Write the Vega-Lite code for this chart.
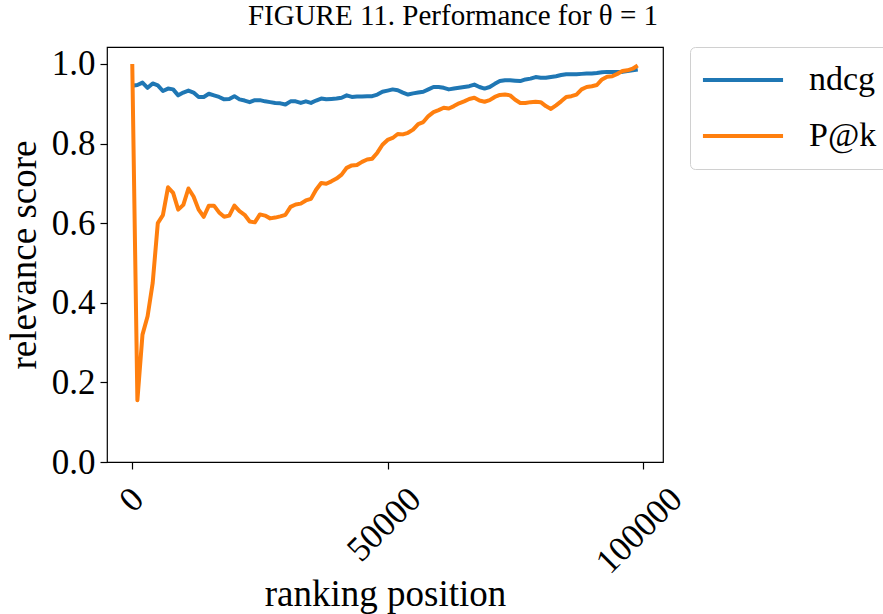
{
  "$schema": "https://vega.github.io/schema/vega-lite/v6.json",
  "width": 556,
  "height": 415,
  "autosize": {"type": "none"},
  "padding": {"left": 107, "top": 47, "right": 220, "bottom": 152},
  "background": "white",
  "title": {"text": "FIGURE 11.  Performance for θ = 1", "font": "Liberation Serif", "fontSize": 29, "fontWeight": "normal", "color": "black", "anchor": "middle", "frame": "group", "dx": 68, "baseline": "alphabetic", "offset": -7},
  "config": {
    "view": {"stroke": "black", "strokeWidth": 1.2},
    "axis": {"domain": false, "grid": false, "labelFont": "Liberation Serif", "labelFontSize": 35, "labelColor": "black", "tickColor": "black", "tickSize": 7, "tickWidth": 1.2, "titleFont": "Liberation Serif", "titleFontSize": 37, "titleFontWeight": "normal", "titleColor": "black"}
  },
  "data": {"values": [
    {"x":0,"series":"ndcg","value":0.945},{"x":1000,"series":"ndcg","value":0.947},{"x":2000,"series":"ndcg","value":0.953},{"x":3000,"series":"ndcg","value":0.940},{"x":4000,"series":"ndcg","value":0.951},
    {"x":5000,"series":"ndcg","value":0.946},{"x":6000,"series":"ndcg","value":0.932},{"x":7000,"series":"ndcg","value":0.938},{"x":8000,"series":"ndcg","value":0.936},{"x":9000,"series":"ndcg","value":0.921},
    {"x":10000,"series":"ndcg","value":0.928},{"x":11000,"series":"ndcg","value":0.933},{"x":12000,"series":"ndcg","value":0.928},{"x":13000,"series":"ndcg","value":0.917},{"x":14000,"series":"ndcg","value":0.917},
    {"x":15000,"series":"ndcg","value":0.925},{"x":16000,"series":"ndcg","value":0.921},{"x":17000,"series":"ndcg","value":0.917},{"x":18000,"series":"ndcg","value":0.911},{"x":19000,"series":"ndcg","value":0.912},
    {"x":20000,"series":"ndcg","value":0.919},{"x":21000,"series":"ndcg","value":0.911},{"x":22000,"series":"ndcg","value":0.908},{"x":23000,"series":"ndcg","value":0.904},{"x":24000,"series":"ndcg","value":0.909},
    {"x":25000,"series":"ndcg","value":0.909},{"x":26000,"series":"ndcg","value":0.906},{"x":27000,"series":"ndcg","value":0.904},{"x":28000,"series":"ndcg","value":0.902},{"x":29000,"series":"ndcg","value":0.901},
    {"x":30000,"series":"ndcg","value":0.898},{"x":31000,"series":"ndcg","value":0.906},{"x":32000,"series":"ndcg","value":0.906},{"x":33000,"series":"ndcg","value":0.902},{"x":34000,"series":"ndcg","value":0.906},
    {"x":35000,"series":"ndcg","value":0.902},{"x":36000,"series":"ndcg","value":0.908},{"x":37000,"series":"ndcg","value":0.913},{"x":38000,"series":"ndcg","value":0.911},{"x":39000,"series":"ndcg","value":0.912},
    {"x":40000,"series":"ndcg","value":0.913},{"x":41000,"series":"ndcg","value":0.915},{"x":42000,"series":"ndcg","value":0.921},{"x":43000,"series":"ndcg","value":0.917},{"x":44000,"series":"ndcg","value":0.918},
    {"x":45000,"series":"ndcg","value":0.918},{"x":46000,"series":"ndcg","value":0.919},{"x":47000,"series":"ndcg","value":0.919},{"x":48000,"series":"ndcg","value":0.923},{"x":49000,"series":"ndcg","value":0.930},
    {"x":50000,"series":"ndcg","value":0.933},{"x":51000,"series":"ndcg","value":0.936},{"x":52000,"series":"ndcg","value":0.934},{"x":53000,"series":"ndcg","value":0.928},{"x":54000,"series":"ndcg","value":0.923},
    {"x":55000,"series":"ndcg","value":0.926},{"x":56000,"series":"ndcg","value":0.928},{"x":57000,"series":"ndcg","value":0.930},{"x":58000,"series":"ndcg","value":0.936},{"x":59000,"series":"ndcg","value":0.942},
    {"x":60000,"series":"ndcg","value":0.942},{"x":61000,"series":"ndcg","value":0.940},{"x":62000,"series":"ndcg","value":0.936},{"x":63000,"series":"ndcg","value":0.938},{"x":64000,"series":"ndcg","value":0.940},
    {"x":65000,"series":"ndcg","value":0.942},{"x":66000,"series":"ndcg","value":0.944},{"x":67000,"series":"ndcg","value":0.948},{"x":68000,"series":"ndcg","value":0.942},{"x":69000,"series":"ndcg","value":0.938},
    {"x":70000,"series":"ndcg","value":0.942},{"x":71000,"series":"ndcg","value":0.950},{"x":72000,"series":"ndcg","value":0.957},{"x":73000,"series":"ndcg","value":0.959},{"x":74000,"series":"ndcg","value":0.959},
    {"x":75000,"series":"ndcg","value":0.958},{"x":76000,"series":"ndcg","value":0.957},{"x":77000,"series":"ndcg","value":0.961},{"x":78000,"series":"ndcg","value":0.963},{"x":79000,"series":"ndcg","value":0.967},
    {"x":80000,"series":"ndcg","value":0.965},{"x":81000,"series":"ndcg","value":0.965},{"x":82000,"series":"ndcg","value":0.967},{"x":83000,"series":"ndcg","value":0.969},{"x":84000,"series":"ndcg","value":0.972},
    {"x":85000,"series":"ndcg","value":0.974},{"x":86000,"series":"ndcg","value":0.974},{"x":87000,"series":"ndcg","value":0.974},{"x":88000,"series":"ndcg","value":0.975},{"x":89000,"series":"ndcg","value":0.976},
    {"x":90000,"series":"ndcg","value":0.976},{"x":91000,"series":"ndcg","value":0.977},{"x":92000,"series":"ndcg","value":0.979},{"x":93000,"series":"ndcg","value":0.980},{"x":94000,"series":"ndcg","value":0.980},
    {"x":95000,"series":"ndcg","value":0.980},{"x":96000,"series":"ndcg","value":0.980},{"x":97000,"series":"ndcg","value":0.982},{"x":98000,"series":"ndcg","value":0.984},{"x":99000,"series":"ndcg","value":0.986},
    {"x":0,"series":"P@k","value":1.0},{"x":1000,"series":"P@k","value":0.155},{"x":2000,"series":"P@k","value":0.32},{"x":3000,"series":"P@k","value":0.366},{"x":4000,"series":"P@k","value":0.45},
    {"x":5000,"series":"P@k","value":0.60},{"x":6000,"series":"P@k","value":0.62},{"x":7000,"series":"P@k","value":0.69},{"x":8000,"series":"P@k","value":0.676},{"x":9000,"series":"P@k","value":0.634},
    {"x":10000,"series":"P@k","value":0.646},{"x":11000,"series":"P@k","value":0.687},{"x":12000,"series":"P@k","value":0.667},{"x":13000,"series":"P@k","value":0.634},{"x":14000,"series":"P@k","value":0.616},
    {"x":15000,"series":"P@k","value":0.644},{"x":16000,"series":"P@k","value":0.644},{"x":17000,"series":"P@k","value":0.627},{"x":18000,"series":"P@k","value":0.616},{"x":19000,"series":"P@k","value":0.619},
    {"x":20000,"series":"P@k","value":0.644},{"x":21000,"series":"P@k","value":0.630},{"x":22000,"series":"P@k","value":0.621},{"x":23000,"series":"P@k","value":0.604},{"x":24000,"series":"P@k","value":0.602},
    {"x":25000,"series":"P@k","value":0.622},{"x":26000,"series":"P@k","value":0.619},{"x":27000,"series":"P@k","value":0.612},{"x":28000,"series":"P@k","value":0.614},{"x":29000,"series":"P@k","value":0.617},
    {"x":30000,"series":"P@k","value":0.621},{"x":31000,"series":"P@k","value":0.641},{"x":32000,"series":"P@k","value":0.647},{"x":33000,"series":"P@k","value":0.649},{"x":34000,"series":"P@k","value":0.657},
    {"x":35000,"series":"P@k","value":0.661},{"x":36000,"series":"P@k","value":0.684},{"x":37000,"series":"P@k","value":0.701},{"x":38000,"series":"P@k","value":0.699},{"x":39000,"series":"P@k","value":0.705},
    {"x":40000,"series":"P@k","value":0.712},{"x":41000,"series":"P@k","value":0.722},{"x":42000,"series":"P@k","value":0.739},{"x":43000,"series":"P@k","value":0.745},{"x":44000,"series":"P@k","value":0.746},
    {"x":45000,"series":"P@k","value":0.754},{"x":46000,"series":"P@k","value":0.760},{"x":47000,"series":"P@k","value":0.762},{"x":48000,"series":"P@k","value":0.777},{"x":49000,"series":"P@k","value":0.797},
    {"x":50000,"series":"P@k","value":0.809},{"x":51000,"series":"P@k","value":0.814},{"x":52000,"series":"P@k","value":0.824},{"x":53000,"series":"P@k","value":0.823},{"x":54000,"series":"P@k","value":0.827},
    {"x":55000,"series":"P@k","value":0.835},{"x":56000,"series":"P@k","value":0.849},{"x":57000,"series":"P@k","value":0.854},{"x":58000,"series":"P@k","value":0.869},{"x":59000,"series":"P@k","value":0.879},
    {"x":60000,"series":"P@k","value":0.884},{"x":61000,"series":"P@k","value":0.890},{"x":62000,"series":"P@k","value":0.888},{"x":63000,"series":"P@k","value":0.894},{"x":64000,"series":"P@k","value":0.901},
    {"x":65000,"series":"P@k","value":0.906},{"x":66000,"series":"P@k","value":0.912},{"x":67000,"series":"P@k","value":0.915},{"x":68000,"series":"P@k","value":0.908},{"x":69000,"series":"P@k","value":0.905},
    {"x":70000,"series":"P@k","value":0.909},{"x":71000,"series":"P@k","value":0.917},{"x":72000,"series":"P@k","value":0.922},{"x":73000,"series":"P@k","value":0.923},{"x":74000,"series":"P@k","value":0.921},
    {"x":75000,"series":"P@k","value":0.910},{"x":76000,"series":"P@k","value":0.902},{"x":77000,"series":"P@k","value":0.902},{"x":78000,"series":"P@k","value":0.904},{"x":79000,"series":"P@k","value":0.905},
    {"x":80000,"series":"P@k","value":0.904},{"x":81000,"series":"P@k","value":0.894},{"x":82000,"series":"P@k","value":0.887},{"x":83000,"series":"P@k","value":0.896},{"x":84000,"series":"P@k","value":0.906},
    {"x":85000,"series":"P@k","value":0.917},{"x":86000,"series":"P@k","value":0.919},{"x":87000,"series":"P@k","value":0.923},{"x":88000,"series":"P@k","value":0.936},{"x":89000,"series":"P@k","value":0.942},
    {"x":90000,"series":"P@k","value":0.944},{"x":91000,"series":"P@k","value":0.947},{"x":92000,"series":"P@k","value":0.961},{"x":93000,"series":"P@k","value":0.968},{"x":94000,"series":"P@k","value":0.969},
    {"x":95000,"series":"P@k","value":0.975},{"x":96000,"series":"P@k","value":0.982},{"x":97000,"series":"P@k","value":0.984},{"x":98000,"series":"P@k","value":0.988},{"x":99000,"series":"P@k","value":0.996}
  ]},
  "mark": {"type": "line", "strokeWidth": 4, "strokeJoin": "round", "clip": true},
  "encoding": {
    "x": {"field": "x", "type": "quantitative",
      "scale": {"domain": [-4950, 103950], "nice": false, "zero": false},
      "axis": {"values": [0, 50000, 100000], "format": "d", "title": "ranking position", "labelAngle": -45, "labelAlign": "right", "labelBaseline": "middle", "labelPadding": 24,
        "labelOffset": {"condition": [{"test": "datum.value == 0", "value": 5}, {"test": "datum.value == 50000", "value": 27}], "value": 33},
        "titleBaseline": "alphabetic", "titleY": 143}},
    "y": {"field": "value", "type": "quantitative",
      "scale": {"domain": [0, 1.0425], "nice": false},
      "axis": {"values": [0, 0.2, 0.4, 0.6, 0.8, 1.0], "format": ".1f", "title": "relevance score", "labelPadding": 5, "titlePadding": 8}},
    "color": {"field": "series", "type": "nominal",
      "scale": {"domain": ["ndcg", "P@k"], "range": ["#1f77b4", "#ff7f0e"]},
      "legend": {"orient": "none", "legendX": 583, "legendY": 0, "title": null, "symbolType": "M-2.67,0H2.67", "symbolSize": 900, "symbolStrokeWidth": 4, "symbolOffset": 20, "labelFont": "Liberation Serif", "labelFontSize": 34, "labelColor": "black", "labelOffset": 49, "padding": 16, "strokeColor": "#d0d0d0", "cornerRadius": 5, "fillColor": "white", "rowPadding": 22}}
  }
}
